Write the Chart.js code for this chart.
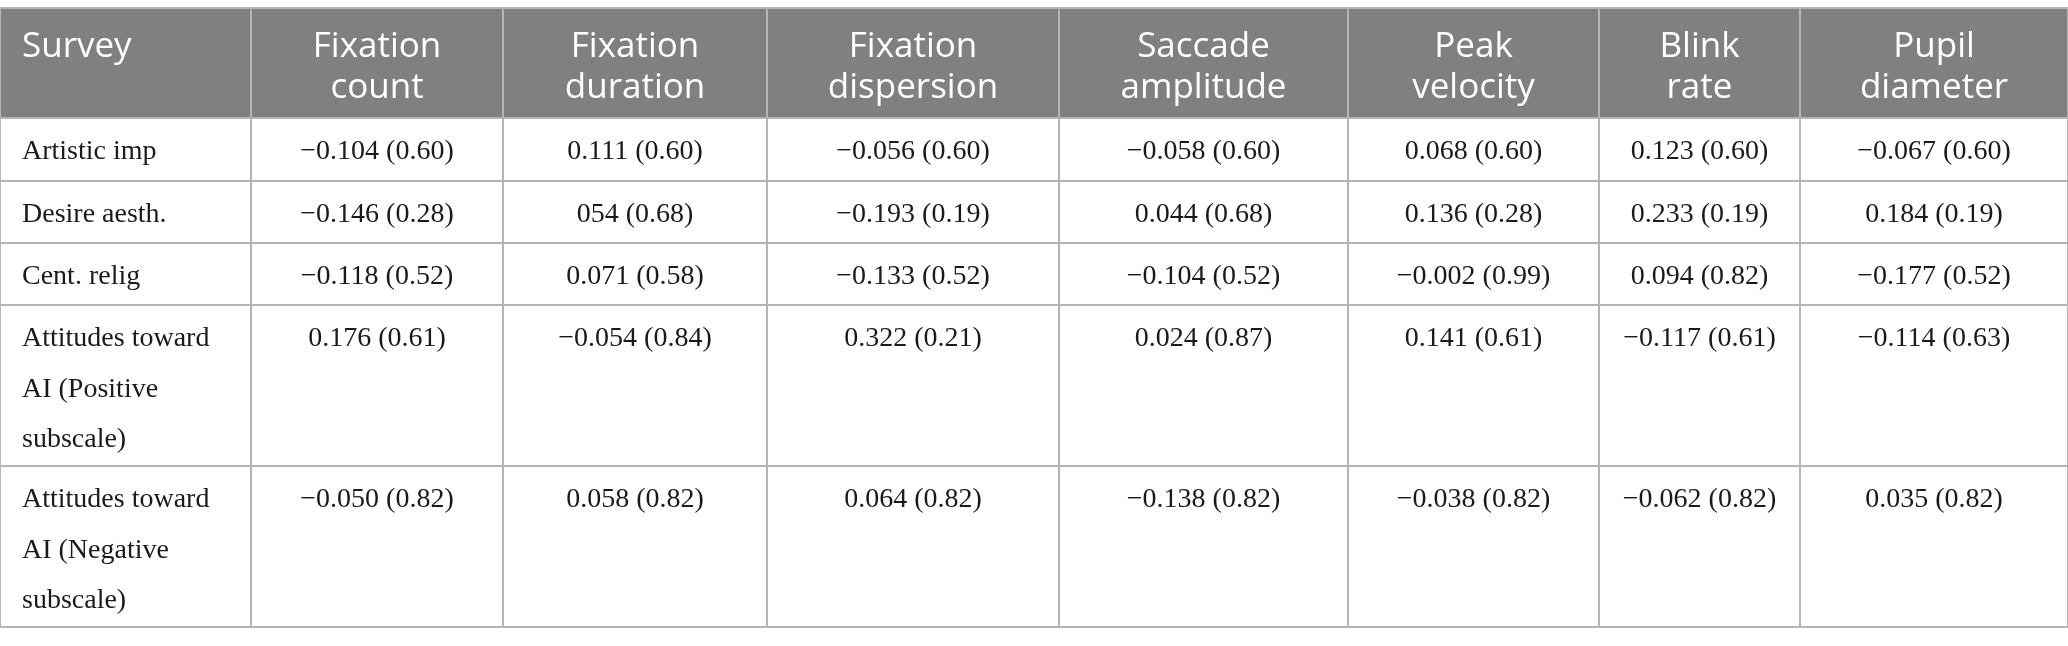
<!DOCTYPE html>
<html>
<head>
<meta charset="utf-8">
<script src="https://cdn.jsdelivr.net/npm/chart.js@4.4.1/dist/chart.umd.min.js"></script>
<style>
  html, body { margin: 0; padding: 0; background: #fff; }
  #wrap { width: 2068px; height: 646px; }
</style>
</head>
<body>
<div id="wrap"><canvas id="table"></canvas></div>
<script>
const firstHeader = 'Survey';
const measures = ['Fixation count', 'Fixation duration', 'Fixation dispersion', 'Saccade amplitude', 'Peak velocity', 'Blink rate', 'Pupil diameter'];
const surveys = ['Artistic imp', 'Desire aesth.', 'Cent. relig', 'Attitudes toward AI (Positive subscale)', 'Attitudes toward AI (Negative subscale)'];

// r (p) per survey, one entry per eye measure
const artisticImp = ['−0.104 (0.60)', '0.111 (0.60)', '−0.056 (0.60)', '−0.058 (0.60)', '0.068 (0.60)', '0.123 (0.60)', '−0.067 (0.60)'];
const desireAesth = ['−0.146 (0.28)', '054 (0.68)', '−0.193 (0.19)', '0.044 (0.68)', '0.136 (0.28)', '0.233 (0.19)', '0.184 (0.19)'];
const centRelig = ['−0.118 (0.52)', '0.071 (0.58)', '−0.133 (0.52)', '−0.104 (0.52)', '−0.002 (0.99)', '0.094 (0.82)', '−0.177 (0.52)'];
const aiPositive = ['0.176 (0.61)', '−0.054 (0.84)', '0.322 (0.21)', '0.024 (0.87)', '0.141 (0.61)', '−0.117 (0.61)', '−0.114 (0.63)'];
const aiNegative = ['−0.050 (0.82)', '0.058 (0.82)', '0.064 (0.82)', '−0.138 (0.82)', '−0.038 (0.82)', '−0.062 (0.82)', '0.035 (0.82)'];
const rows = [artisticImp, desireAesth, centRelig, aiPositive, aiNegative];

// layout of the grid (scale units)
const colEdges = [0, 251, 503, 767, 1059, 1348, 1599, 1800, 2068];
const rowEdges = [8, 118, 181, 243, 305, 466, 627];

const headFont = '35px "Open Sans"';
const bodyFont = '28px "Liberation Serif"';
const padX = 22;

function wrap(ctx, text, maxW) {
    const words = text.split(' ');
    const lines = [];
    let cur = '';
    words.forEach(w => {
        const t = cur ? cur + ' ' + w : w;
        if (cur && ctx.measureText(t).width > maxW) {
            lines.push(cur);
            cur = w;
        } else {
            cur = t;
        }
    });
    if (cur) lines.push(cur);
    return lines;
}

const tablePlugin = {
    id: 'tablePlugin',
    beforeDraw(chart) {
        const { ctx, scales: { x, y } } = chart;
        ctx.save();
        ctx.fillStyle = '#fff';
        ctx.fillRect(0, 0, chart.width, chart.height);
        ctx.fillStyle = '#7f8180';
        const x0 = x.getPixelForValue(colEdges[0]);
        const x1 = x.getPixelForValue(colEdges[colEdges.length - 1]);
        const y0 = y.getPixelForValue(rowEdges[0]);
        const y1 = y.getPixelForValue(rowEdges[1]);
        ctx.fillRect(x0, y0, x1 - x0, y1 - y0);
        ctx.restore();
    },
    afterDraw(chart) {
        const { ctx, scales: { x, y } } = chart;
        ctx.save();
        ctx.textBaseline = 'alphabetic';

        // header
        ctx.fillStyle = '#ffffff';
        ctx.font = headFont;
        const headTop = y.getPixelForValue(rowEdges[0]);
        ctx.textAlign = 'left';
        ctx.fillText(firstHeader, x.getPixelForValue(colEdges[0]) + padX, headTop + 49);
        ctx.textAlign = 'center';
        measures.forEach((m, i) => {
            const cx = (x.getPixelForValue(colEdges[i + 1]) + x.getPixelForValue(colEdges[i + 2])) / 2;
            m.split(' ').forEach((line, j) => {
                ctx.fillText(line, cx, headTop + 49 + j * 41);
            });
        });

        // body
        ctx.fillStyle = '#1a1a1a';
        ctx.font = bodyFont;
        surveys.forEach((s, r) => {
            const top = y.getPixelForValue(rowEdges[r + 1]);
            const left = x.getPixelForValue(colEdges[0]);
            const w = x.getPixelForValue(colEdges[1]) - left;
            ctx.textAlign = 'left';
            wrap(ctx, s, w - padX * 2).forEach((line, j) => {
                ctx.fillText(line, left + padX, top + 41 + j * 50.5);
            });
            ctx.textAlign = 'center';
            rows[r].forEach((cell, c) => {
                const cx = (x.getPixelForValue(colEdges[c + 1]) + x.getPixelForValue(colEdges[c + 2])) / 2;
                ctx.fillText(cell, cx, top + 41);
            });
        });
        ctx.restore();
    }
};

const gridLine = { color: '#b5b5b5', lineWidth: 2, drawTicks: false };

new Chart(document.getElementById('table'), {
    type: 'scatter',
    data: { datasets: [{ data: [], pointRadius: 0 }] },
    options: {
        responsive: true,
        maintainAspectRatio: false,
        animation: false,
        events: [],
        layout: { padding: { top: rowEdges[0], bottom: 646 - rowEdges[rowEdges.length - 1], left: 0, right: 0 } },
        plugins: { legend: { display: false }, tooltip: { enabled: false } },
        scales: {
            x: {
                type: 'linear',
                min: colEdges[0],
                max: colEdges[colEdges.length - 1],
                afterBuildTicks: axis => { axis.ticks = colEdges.map(v => ({ value: v })); },
                ticks: { display: false },
                grid: gridLine,
                border: { display: false }
            },
            y: {
                type: 'linear',
                reverse: true,
                min: rowEdges[0],
                max: rowEdges[rowEdges.length - 1],
                afterBuildTicks: axis => { axis.ticks = rowEdges.map(v => ({ value: v })); },
                ticks: { display: false },
                grid: gridLine,
                border: { display: false }
            }
        }
    },
    plugins: [tablePlugin]
});
</script>
</body>
</html>
